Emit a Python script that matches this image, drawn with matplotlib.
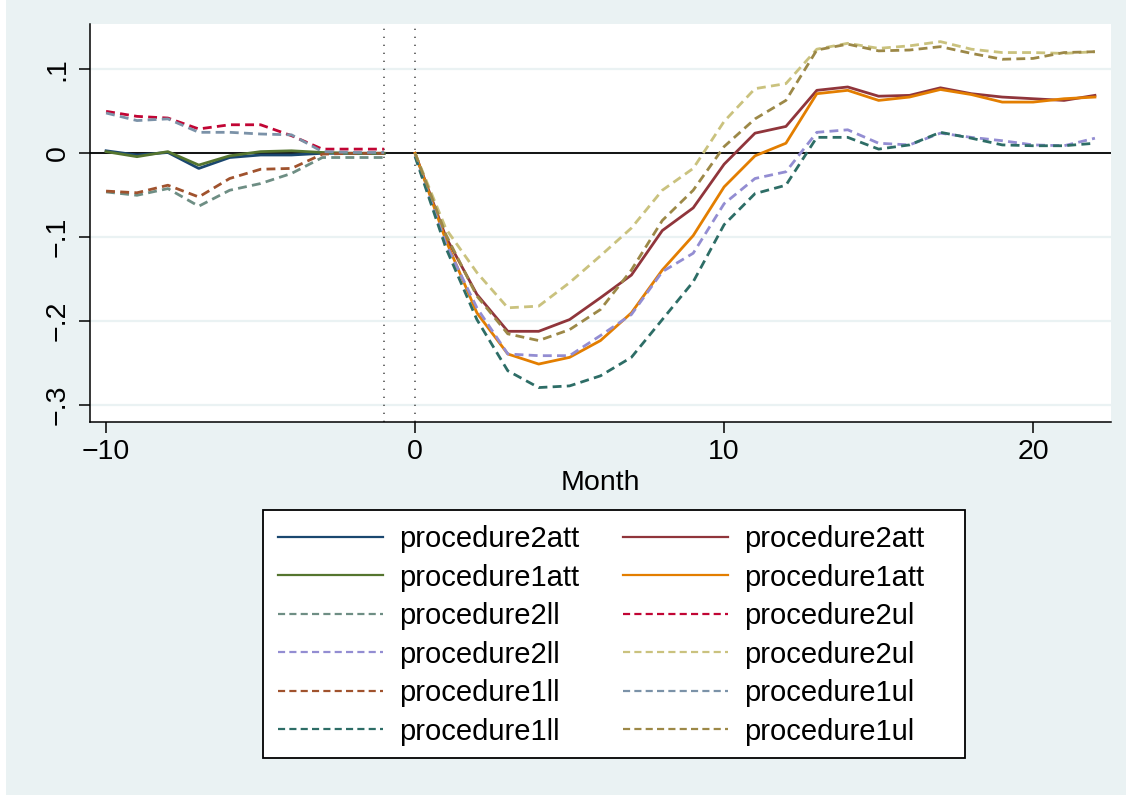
import matplotlib
matplotlib.use("Agg")
import matplotlib.pyplot as plt
from matplotlib.patches import Rectangle

plt.rcParams['font.family'] = ['Liberation Sans', 'DejaVu Sans']

# months
pre_months = list(range(-10, 0))
post_months = list(range(0, 23))

# pre-period estimates
p2att_pre = [0.003, -0.002, 0.001, -0.018, -0.005, -0.002, -0.002, 0.0, 0.0, 0.0]
p1att_pre = [0.002, -0.004, 0.002, -0.014, -0.003, 0.002, 0.003, 0.001, 0.0, 0.0]
p2ll_pre = [-0.046, -0.050, -0.042, -0.063, -0.044, -0.036, -0.024, -0.005, -0.005, -0.005]
p2ul_pre = [0.050, 0.044, 0.042, 0.029, 0.034, 0.034, 0.021, 0.005, 0.005, 0.005]
p1ll_pre = [-0.045, -0.047, -0.038, -0.052, -0.030, -0.019, -0.018, -0.001, 0.0, 0.0]
p1ul_pre = [0.048, 0.039, 0.041, 0.025, 0.025, 0.023, 0.022, 0.002, 0.001, 0.001]

# post-period estimates
p2att_post = [0.0, -0.100, -0.168, -0.212, -0.212, -0.198, -0.172, -0.145, -0.092, -0.065,
              -0.013, 0.024, 0.032, 0.075, 0.079, 0.068, 0.069, 0.078, 0.071, 0.067,
              0.065, 0.063, 0.069]
p1att_post = [0.0, -0.104, -0.190, -0.239, -0.251, -0.243, -0.223, -0.190, -0.139, -0.098,
              -0.040, -0.003, 0.012, 0.071, 0.075, 0.063, 0.067, 0.076, 0.070, 0.061,
              0.061, 0.065, 0.067]
p2ll_post = [-0.003, -0.108, -0.184, -0.239, -0.241, -0.241, -0.217, -0.192, -0.141, -0.119,
             -0.060, -0.030, -0.022, 0.025, 0.028, 0.012, 0.010, 0.024, 0.019, 0.015,
             0.010, 0.009, 0.018]
p2ul_post = [0.0, -0.090, -0.142, -0.184, -0.182, -0.154, -0.122, -0.089, -0.044, -0.018,
             0.038, 0.077, 0.083, 0.124, 0.131, 0.125, 0.128, 0.133, 0.124, 0.120,
             0.120, 0.119, 0.121]
p1ll_post = [-0.004, -0.113, -0.198, -0.259, -0.279, -0.277, -0.265, -0.243, -0.198, -0.153,
             -0.085, -0.048, -0.038, 0.019, 0.019, 0.005, 0.010, 0.025, 0.018, 0.010,
             0.009, 0.009, 0.012]
p1ul_post = [0.0, -0.097, -0.170, -0.215, -0.223, -0.210, -0.186, -0.139, -0.080, -0.044,
             0.008, 0.041, 0.063, 0.123, 0.130, 0.122, 0.123, 0.127, 0.119, 0.112,
             0.113, 0.120, 0.121]

W, H = 1130, 795
fig = plt.figure(figsize=(W / 100, H / 100), dpi=100)
fig.patch.set_facecolor('white')
# stata graph region
fig.patches.append(Rectangle((6 / W, 0), 1120 / W, 1, transform=fig.transFigure,
                             facecolor='#EAF2F3', edgecolor='none', zorder=-10))

ax = fig.add_axes([90 / W, 1 - 422 / H, 1021 / W, 398 / H])
ax.set_facecolor('white')

ax.set_xlim(-10.52, 22.52)
ax.set_ylim(-0.320, 0.154)

ax.set_yticks([-0.3, -0.2, -0.1, 0, 0.1])
ax.set_yticklabels(['\u2212.3', '\u2212.2', '\u2212.1', '0', '.1'], rotation=90, va='center')
ax.set_xticks([-10, 0, 10, 20])
ax.set_xticklabels(['\u221210', '0', '10', '20'])
ax.tick_params(axis='both', labelsize=20.5, length=8, width=1.1, color='black')
ax.tick_params(axis='y', pad=6)
ax.tick_params(axis='x', pad=4)

ax.grid(axis='y', color='#EAF2F3', linewidth=1.6, zorder=0)
ax.set_axisbelow(True)
for s in ['top', 'right']:
    ax.spines[s].set_visible(False)
for s in ['left', 'bottom']:
    ax.spines[s].set_linewidth(1.1)

ax.axhline(0, color='black', linewidth=1.3, zorder=1)
ax.axvline(-1, color='#555555', linestyle=(0, (0.8, 4)), linewidth=1.2, zorder=1)
ax.axvline(0, color='#555555', linestyle=(0, (0.8, 4)), linewidth=1.2, zorder=1)

lw = 2.0
dash = (0, (3.2, 1.9))
series = [
    (pre_months, p2att_pre, '#1A476F', '-', 'procedure2att'),
    (post_months, p2att_post, '#90353B', '-', 'procedure2att'),
    (pre_months, p1att_pre, '#55752F', '-', 'procedure1att'),
    (post_months, p1att_post, '#E37E00', '-', 'procedure1att'),
    (pre_months, p2ll_pre, '#6E8E84', dash, 'procedure2ll'),
    (pre_months, p2ul_pre, '#C10534', dash, 'procedure2ul'),
    (post_months, p2ll_post, '#938DD2', dash, 'procedure2ll'),
    (post_months, p2ul_post, '#CAC27E', dash, 'procedure2ul'),
    (pre_months, p1ll_pre, '#A0522D', dash, 'procedure1ll'),
    (pre_months, p1ul_pre, '#7B92A8', dash, 'procedure1ul'),
    (post_months, p1ll_post, '#2D6D66', dash, 'procedure1ll'),
    (post_months, p1ul_post, '#9C8847', dash, 'procedure1ul'),
]
handles = []
for x, y, c, ls, lab in series:
    h, = ax.plot(x, y, color=c, linestyle=ls, linewidth=lw, label=lab, zorder=2)
    handles.append(h)

ax.set_xlabel('Month', fontsize=20.5, labelpad=4)

# legend box drawn by hand (stata leaves extra room on the right)
fig.patches.append(Rectangle((263 / W, 1 - 758 / H), 702 / W, 248 / H,
                             transform=fig.transFigure, facecolor='white',
                             edgecolor='black', linewidth=1.3, zorder=1))

# stata fills legend row by row, matplotlib column by column
order = [0, 2, 4, 6, 8, 10, 1, 3, 5, 7, 9, 11]
leg = fig.legend([handles[i] for i in order], [handles[i].get_label() for i in order],
                 ncol=2, loc='upper left', bbox_to_anchor=(265 / W, 1 - 512 / H),
                 fontsize=21, frameon=False,
                 handlelength=3.6, handletextpad=0.55, columnspacing=1.5,
                 labelspacing=0.36, borderpad=0.45, borderaxespad=0)
leg.set_zorder(5)
for lh in leg.get_lines():
    lh.set_linewidth(1.6)

fig.savefig('out.png', dpi=100, facecolor=fig.get_facecolor())
